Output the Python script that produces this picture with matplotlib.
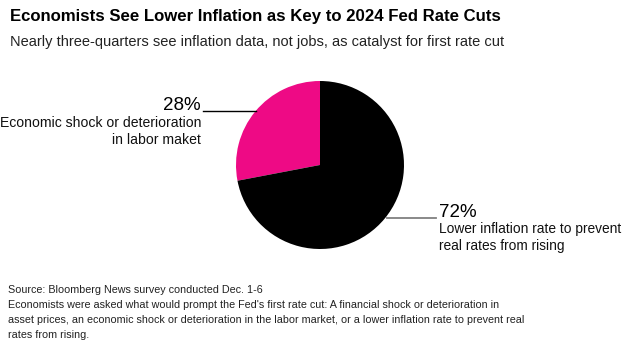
import matplotlib
matplotlib.use("Agg")
import matplotlib.pyplot as plt

labels = ["Economic shock or deterioration\nin labor maket",
          "Lower inflation rate to prevent\nreal rates from rising"]
values = [28, 72]
pct_labels = ["28%", "72%"]
colors = ["#EE0A85", "#000000"]

title = "Economists See Lower Inflation as Key to 2024 Fed Rate Cuts"
subtitle = "Nearly three-quarters see inflation data, not jobs, as catalyst for first rate cut"
footer = ("Source: Bloomberg News survey conducted Dec. 1-6\n"
          "Economists were asked what would prompt the Fed's first rate cut: A financial shock or deterioration in\n"
          "asset prices, an economic shock or deterioration in the labor market, or a lower inflation rate to prevent real\n"
          "rates from rising.")

W, H = 634, 359
fig = plt.figure(figsize=(W / 100, H / 100), dpi=100)
ax = fig.add_axes([0, 0, 1, 1])

def Y(y):
    return H - y

font = "Liberation Sans"

ax.pie(values, colors=colors, startangle=90, counterclock=True,
       center=(320, Y(165)), radius=84, frame=True,
       wedgeprops=dict(linewidth=0))
ax.set_xlim(0, W)
ax.set_ylim(0, H)
ax.set_aspect("equal")
ax.axis("off")

# leader lines
ax.plot([203, 256], [Y(111), Y(111)], color="black", lw=1)
ax.plot([387, 436], [Y(218), Y(218)], color="#808080", lw=1.3)

# 28% label
ax.text(201, Y(110), pct_labels[0], ha="right", va="baseline",
        fontsize=13.5, family=font, color="black")
ax.text(201, Y(116), labels[0], ha="right", va="top", fontsize=10.1,
        family=font, color="#111111", linespacing=1.3)

# 72% label
ax.text(439, Y(217), pct_labels[1], ha="left", va="baseline",
        fontsize=13.5, family=font, color="black")
ax.text(439, Y(222), labels[1], ha="left", va="top", fontsize=9.9,
        family=font, color="#111111", linespacing=1.3)

fig.text(10 / W, 1 - 9 / H, title, ha="left", va="top", fontsize=12.1,
         family=font, weight="bold", color="black")
fig.text(10 / W, 1 - 35 / H, subtitle, ha="left", va="top", fontsize=10.5,
         family=font, color="#222222")
fig.text(8 / W, 1 - 285 / H, footer, ha="left", va="top", fontsize=7.75,
         family=font, color="#222222", linespacing=1.62)

fig.savefig("out.png", dpi=100, facecolor="white")
